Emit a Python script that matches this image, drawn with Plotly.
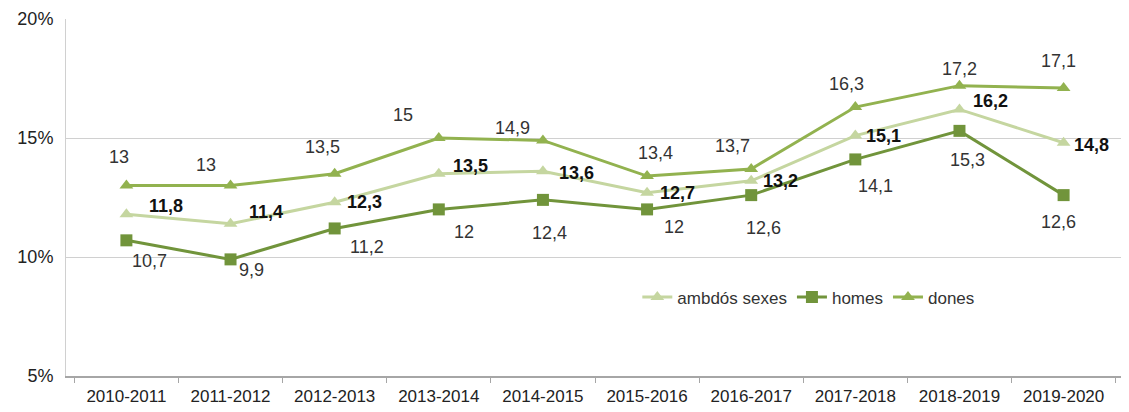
import plotly.graph_objects as go

cursos = ["2010-2011", "2011-2012", "2012-2013", "2013-2014", "2014-2015",
          "2015-2016", "2016-2017", "2017-2018", "2018-2019", "2019-2020"]
ambdos = [11.8, 11.4, 12.3, 13.5, 13.6, 12.7, 13.2, 15.1, 16.2, 14.8]
homes = [10.7, 9.9, 11.2, 12.0, 12.4, 12.0, 12.6, 14.1, 15.3, 12.6]
dones = [13.0, 13.0, 13.5, 15.0, 14.9, 13.4, 13.7, 16.3, 17.2, 17.1]

# desplaçaments de les etiquetes (px) per sèrie
off_dones = [(-7, 29), (-25, 21), (-12, 27), (-36, 23), (-30, 12),
             (8, 23), (-19, 23), (-9, 23), (0, 17), (-5, 27)]
off_ambdos = [(40, 8), (35, 12), (30, 0), (32, 8), (34, -2),
              (30, 0), (29, 0), (28, 0), (31, 8), (28, -2)]
off_homes = [(23, -21), (21, -11), (32, -19), (25, -23), (7, -33),
             (27, -18), (12, -33), (20, -27), (8, -29), (-5, -27)]

C_AMB = "#c5d6a0"
C_HOM = "#71943b"
C_DON = "#92b24f"

def fmt(v):
    return f"{v:g}".replace(".", ",")

fig = go.Figure()
fig.add_trace(go.Scatter(
    x=cursos, y=ambdos, name="ambdós sexes", mode="lines+markers",
    line=dict(color=C_AMB, width=3), marker=dict(symbol="triangle-up", size=12, color=C_AMB)
))
fig.add_trace(go.Scatter(
    x=cursos, y=homes, name="homes", mode="lines+markers",
    line=dict(color=C_HOM, width=3), marker=dict(symbol="square", size=12, color=C_HOM)
))
fig.add_trace(go.Scatter(
    x=cursos, y=dones, name="dones", mode="lines+markers",
    line=dict(color=C_DON, width=3), marker=dict(symbol="triangle-up", size=12, color=C_DON)
))

annots = []
for vals, offs, bold in [(dones, off_dones, False), (ambdos, off_ambdos, True), (homes, off_homes, False)]:
    for c, v, (dx, dy) in zip(cursos, vals, offs):
        txt = f"<b>{fmt(v)}</b>" if bold else fmt(v)
        annots.append(dict(
            x=c, y=v, text=txt, showarrow=False, xshift=dx, yshift=dy,
            font=dict(size=18, color="#111111" if bold else "#333333")
        ))

# la pàgina té 8 px de marge al body
fig.update_layout(
    width=1121, height=404,
    margin=dict(l=58, r=5, t=11, b=36),
    paper_bgcolor="white", plot_bgcolor="white",
    font=dict(family="Liberation Sans, Arial, sans-serif", size=18, color="#222222"),
    annotations=annots,
    legend=dict(orientation="h", x=0.54, y=0.22, xanchor="left", yanchor="middle",
                font=dict(size=17, color="#333333"), bgcolor="rgba(0,0,0,0)",
                itemwidth=30),
    xaxis=dict(
        automargin=False,
        showline=True, linecolor="#a6a6a6", linewidth=1.5,
        ticks="outside", tickson="boundaries", ticklen=5, tickcolor="#a6a6a6",
        ticklabelstandoff=4,
        showgrid=False, tickfont=dict(size=17, color="#222222")
    ),
    yaxis=dict(
        automargin=False,
        range=[5, 20], dtick=5, ticksuffix="%",
        showgrid=True, gridcolor="#d0d0d0", gridwidth=1,
        showline=True, linecolor="#d0d0d0", zeroline=False,
        ticklabelstandoff=8,
        tickfont=dict(size=18, color="#222222")
    ),
)

fig.write_html("out.html")
